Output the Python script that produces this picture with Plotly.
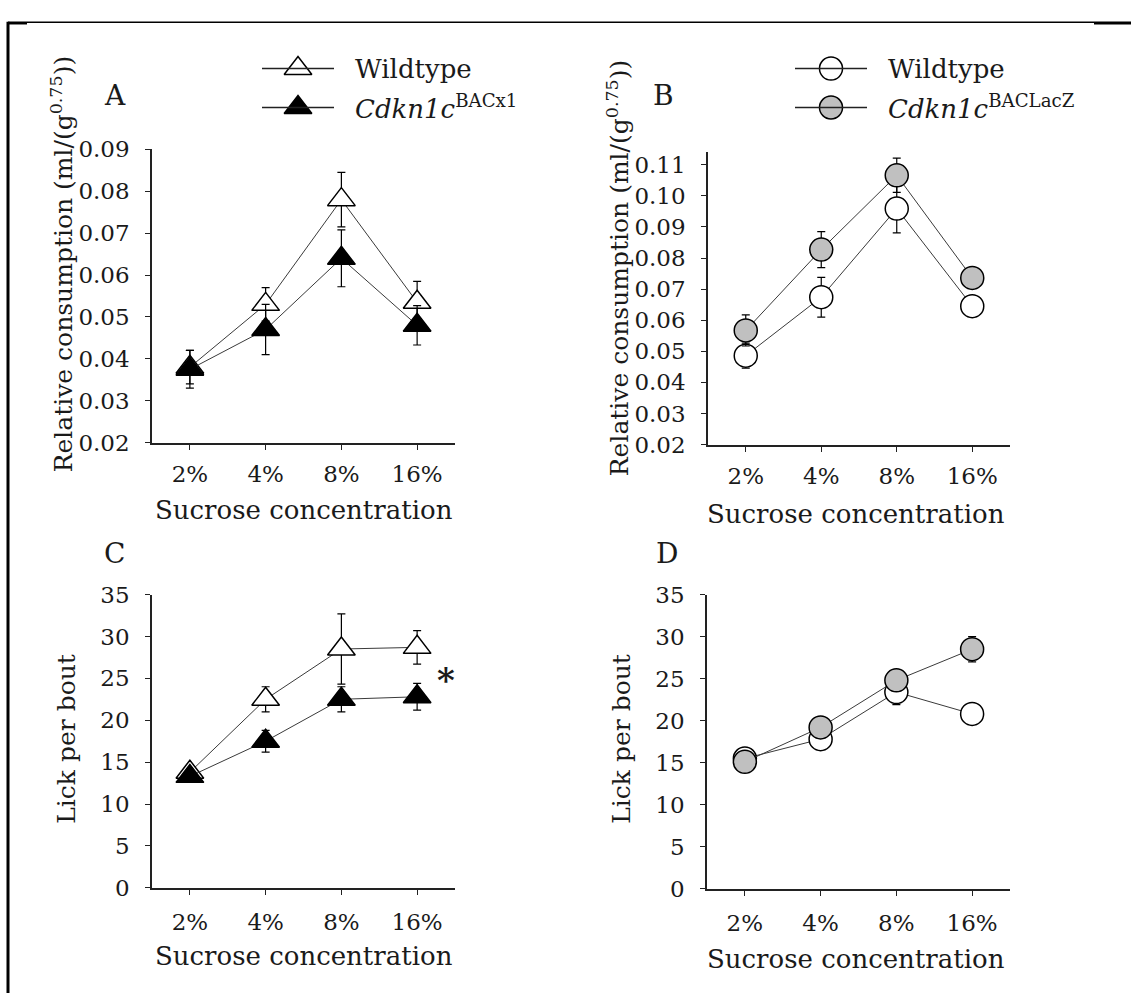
import plotly.graph_objects as go

# ---- data -------------------------------------------------------------
concentrations = ["2%", "4%", "8%", "16%"]

# Panel A: relative consumption, BACx1 line
a_wt_mean = [0.038, 0.053, 0.078, 0.0535]
a_wt_sem = [0.004, 0.004, 0.0065, 0.005]
a_tg_mean = [0.0375, 0.047, 0.064, 0.048]
a_tg_sem = [0.0045, 0.006, 0.0068, 0.0047]

# Panel B: relative consumption, BACLacZ line
b_wt_mean = [0.0486, 0.0674, 0.0959, 0.0645]
b_wt_sem = [0.004, 0.0064, 0.0078, 0.0015]
b_tg_mean = [0.0567, 0.0827, 0.1066, 0.0736]
b_tg_sem = [0.005, 0.0058, 0.0055, 0.0015]

# Panel C: licks per bout, BACx1 line
c_wt_mean = [13.8, 22.5, 28.5, 28.7]
c_wt_sem = [0.8, 1.5, 4.2, 2.0]
c_tg_mean = [13.3, 17.5, 22.5, 22.8]
c_tg_sem = [0.6, 1.3, 1.5, 1.6]

# Panel D: licks per bout, BACLacZ line
d_wt_mean = [15.5, 17.8, 23.4, 20.8]
d_wt_sem = [0.6, 0.8, 1.5, 0.6]
d_tg_mean = [15.1, 19.2, 24.8, 28.5]
d_tg_sem = [0.6, 0.8, 1.0, 1.5]

WT = "Wildtype"
TG1 = "<i>Cdkn1c</i><sup>BACx1</sup>"
TG2 = "<i>Cdkn1c</i><sup>BACLacZ</sup>"

W, H = 1131, 1006
FONT = "DejaVu Serif"
TXT = "#1a1a1a"
GREY = "#c0c0c0"
xpos = list(range(len(concentrations)))


def px(x):
    return x / W


def py(y):
    return 1 - y / H


fig = go.Figure()

STYLE = {
    "tri_open": dict(symbol="triangle-up", size=24, color="white"),
    "tri_fill": dict(symbol="triangle-up", size=24, color="black"),
    "circ_open": dict(symbol="circle", size=23, color="white"),
    "circ_grey": dict(symbol="circle", size=23, color=GREY),
}


def add_series(mean, sem, axis, style, name):
    m = STYLE[style]
    fig.add_trace(go.Scatter(
        x=xpos, y=mean, mode="lines+markers", name=name,
        xaxis="x" + axis, yaxis="y" + axis, showlegend=False,
        line=dict(color="#3a3a3a", width=1),
        marker=dict(symbol=m["symbol"], size=m["size"], color=m["color"],
                    line=dict(color="black", width=1.5)),
        error_y=dict(type="data", array=sem, color="black",
                     thickness=1.2, width=4),
    ))


add_series(a_wt_mean, a_wt_sem, "", "tri_open", WT)
add_series(a_tg_mean, a_tg_sem, "", "tri_fill", TG1)
add_series(b_wt_mean, b_wt_sem, "2", "circ_open", WT)
add_series(b_tg_mean, b_tg_sem, "2", "circ_grey", TG2)
add_series(c_wt_mean, c_wt_sem, "3", "tri_open", WT)
add_series(c_tg_mean, c_tg_sem, "3", "tri_fill", TG1)
add_series(d_wt_mean, d_wt_sem, "4", "circ_open", WT)
add_series(d_tg_mean, d_tg_sem, "4", "circ_grey", TG2)

# ---- legend keys (drawn on a page-sized overlay in pixel units) --------
legend_keys = [
    # (line x0, line x1, row y, style, label)
    (262, 334, 57, "tri_open", WT),
    (262, 334, 97, "tri_fill", TG1),
    (795, 867, 57, "circ_open", WT),
    (795, 867, 97, "circ_grey", TG2),
]
shapes = []
annotations = []
for x0, x1, yy, style, label in legend_keys:
    shapes.append(dict(type="line", xref="x5", yref="y5", x0=x0, x1=x1, y0=yy, y1=yy,
                       line=dict(color="#222", width=1.5)))
    m = STYLE[style]
    fig.add_trace(go.Scatter(
        x=[(x0 + x1) / 2], y=[yy], mode="markers", xaxis="x5", yaxis="y5",
        showlegend=False, hoverinfo="skip", cliponaxis=False,
        marker=dict(symbol=m["symbol"], size=m["size"], color=m["color"],
                    line=dict(color="black", width=1.5)),
    ))
    annotations.append(dict(text=label, x=x1 + 19, y=yy, xref="x5", yref="y5",
                            xanchor="left", yanchor="middle", showarrow=False,
                            font=dict(family=FONT, size=26, color=TXT)))

tickfont = dict(family=FONT, size=23, color=TXT)


def xaxis_cfg(x0, x1, anchor, standoff):
    return dict(domain=[px(x0), px(x1)], range=[-0.5, 3.5], anchor=anchor,
                tickvals=xpos, ticktext=concentrations,
                showline=True, linecolor="#222", linewidth=2,
                ticks="outside", ticklen=5, tickwidth=1.2, tickcolor="#222",
                ticklabelstandoff=standoff,
                showgrid=False, zeroline=False, tickfont=tickfont,
                fixedrange=True)


def yaxis_cfg(y0, y1, anchor, rng, tickvals, fmt):
    return dict(domain=[py(y1), py(y0)], range=rng, anchor=anchor, tickvals=tickvals,
                tickformat=fmt, showline=True, linecolor="#222", linewidth=1.5,
                ticks="outside", ticklen=5, tickwidth=1.2, tickcolor="#222",
                ticklabelstandoff=11,
                showgrid=False, zeroline=False, tickfont=tickfont,
                fixedrange=True)


cons_ticks = [0.02, 0.03, 0.04, 0.05, 0.06, 0.07, 0.08, 0.09]
cons_ticks_b = cons_ticks + [0.10, 0.11]
lick_ticks = [0, 5, 10, 15, 20, 25, 30, 35]

fig.update_layout(
    width=W, height=H,
    margin=dict(l=0, r=0, t=0, b=0),
    paper_bgcolor="white", plot_bgcolor="rgba(0,0,0,0)",
    font=dict(family=FONT, color=TXT),
    showlegend=False,
    xaxis=xaxis_cfg(152, 455, "y", 5),
    yaxis=yaxis_cfg(140, 441, "x", [0.02, 0.09], cons_ticks, ".2f"),
    xaxis2=xaxis_cfg(708, 1010, "y2", 5),
    yaxis2=yaxis_cfg(143, 443, "x2", [0.02, 0.114], cons_ticks_b, ".2f"),
    xaxis3=xaxis_cfg(152, 455, "y3", 8),
    yaxis3=yaxis_cfg(597, 898, "x3", [0, 35], lick_ticks, "d"),
    xaxis4=xaxis_cfg(707, 1010, "y4", 8),
    yaxis4=yaxis_cfg(597, 899, "x4", [0, 35], lick_ticks, "d"),
    xaxis5=dict(domain=[0, 1], range=[0, W], visible=False, anchor="y5",
                fixedrange=True),
    yaxis5=dict(domain=[0, 1], range=[H, 0], visible=False, anchor="x5",
                fixedrange=True),
)


def note(text, x, y, size=26, angle=0):
    annotations.append(dict(text=text, x=px(x), y=py(y), xref="paper", yref="paper",
                            showarrow=False, textangle=angle, xanchor="center",
                            yanchor="middle", font=dict(family=FONT, size=size, color=TXT)))


ytitle_cons = "Relative consumption (ml/(g<sup>0.75</sup>))"
note(ytitle_cons, 62, 258, size=25, angle=-90)
note(ytitle_cons, 618, 262, size=25, angle=-90)
note("Lick per bout", 67, 745, size=25, angle=-90)
note("Lick per bout", 622, 745, size=25, angle=-90)
note("Sucrose concentration", 304, 510)
note("Sucrose concentration", 856, 514)
note("Sucrose concentration", 304, 968)
note("Sucrose concentration", 856, 971)
note("A", 115, 85, size=28)
note("B", 663, 85, size=28)
note("C", 114, 555, size=28)
note("D", 667, 555, size=28)

# significance mark beside the 16% pair in panel C
annotations.append(dict(text="<b>*</b>", x=xpos[-1], y=(c_wt_mean[-1] + c_tg_mean[-1]) / 2,
                        xref="x3", yref="y3", showarrow=False, xshift=29, yshift=-8,
                        font=dict(family=FONT, size=34, color=TXT)))

# page frame lines
frame = [
    (8, 8, 9, H, 3),
    (8, W, 9.5, 9.5, 1.5),
    (8, 27, 10.5, 10.5, 2.5),
    (1094, W, 10.5, 10.5, 2.5),
]
for x0, x1, y0, y1, w in frame:
    shapes.append(dict(type="line", xref="paper", yref="paper",
                       x0=px(x0), x1=px(x1), y0=py(y0), y1=py(y1),
                       line=dict(color="black", width=w)))

fig.update_layout(annotations=annotations, shapes=shapes)

fig.write_html("out.html")
